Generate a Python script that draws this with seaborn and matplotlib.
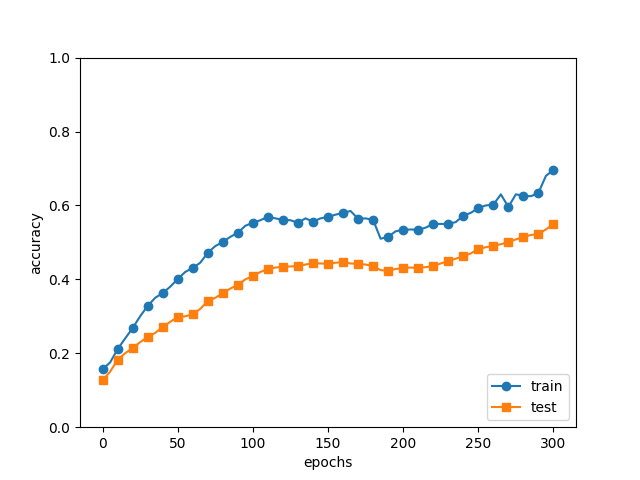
import numpy as np
import pandas as pd
import seaborn as sns
import matplotlib
matplotlib.use('Agg')
import matplotlib.pyplot as plt

# epochs sampled every 5, markers drawn every 10 epochs
epochs = list(range(0, 301, 5))

train_acc = [0.157, 0.175, 0.211, 0.240, 0.268, 0.300, 0.328, 0.350, 0.363, 0.380,
             0.401, 0.420, 0.431, 0.445, 0.472, 0.490, 0.501, 0.515, 0.526, 0.545,
             0.553, 0.560, 0.569, 0.565, 0.561, 0.560, 0.553, 0.565, 0.556, 0.565,
             0.569, 0.575, 0.580, 0.585, 0.564, 0.565, 0.561, 0.510, 0.515, 0.530,
             0.534, 0.535, 0.534, 0.540, 0.550, 0.550, 0.550, 0.555, 0.572, 0.580,
             0.593, 0.600, 0.602, 0.630, 0.596, 0.630, 0.626, 0.625, 0.634, 0.680,
             0.696]

test_acc = [0.127, 0.150, 0.182, 0.200, 0.214, 0.230, 0.244, 0.255, 0.271, 0.285,
            0.298, 0.300, 0.306, 0.320, 0.341, 0.350, 0.363, 0.375, 0.385, 0.400,
            0.409, 0.420, 0.428, 0.432, 0.434, 0.435, 0.436, 0.440, 0.444, 0.443,
            0.442, 0.445, 0.447, 0.443, 0.442, 0.440, 0.436, 0.425, 0.423, 0.428,
            0.431, 0.432, 0.431, 0.433, 0.436, 0.443, 0.450, 0.456, 0.463, 0.470,
            0.482, 0.487, 0.491, 0.495, 0.501, 0.508, 0.515, 0.520, 0.523, 0.535,
            0.550]

df = pd.DataFrame({'epochs': epochs, 'train': train_acc, 'test': test_acc})

fig, ax = plt.subplots(figsize=(6.4, 4.8), dpi=100)

sns.lineplot(data=df, x='epochs', y='train', ax=ax, color='C0', marker='o',
             markevery=2, markersize=6, mec='C0', mew=1, label='train')
sns.lineplot(data=df, x='epochs', y='test', ax=ax, color='C1', marker='s',
             markevery=2, markersize=6, mec='C1', mew=1, label='test')

ax.set_xlabel('epochs')
ax.set_ylabel('accuracy')
ax.set_ylim(0, 1.0)
ax.legend(loc='lower right')

plt.savefig('out.png', dpi=100)
plt.close()
